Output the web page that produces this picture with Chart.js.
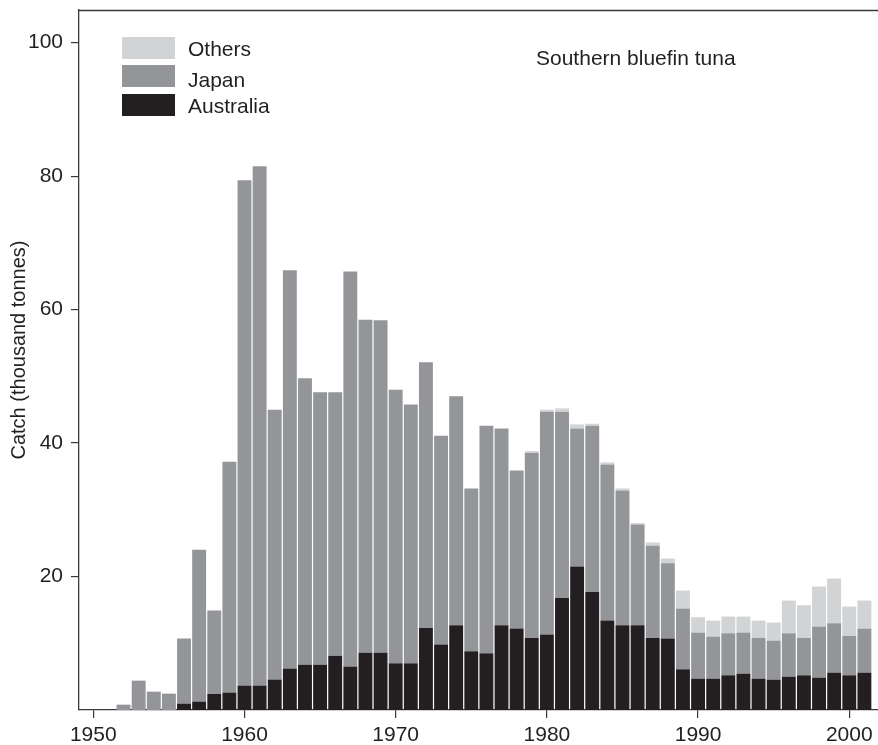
<!DOCTYPE html>
<html>
<head>
<meta charset="utf-8">
<script src="https://cdn.jsdelivr.net/npm/chart.js@4.4.1/dist/chart.umd.min.js"></script>
<style>
  html, body { margin: 0; padding: 0; background: #fff; }
  #wrap { width: 878px; height: 745px; }
</style>
</head>
<body>
<div id="wrap"><canvas id="c" width="878" height="745"></canvas></div>
<script>
const years = [1950,1951,1952,1953,1954,1955,1956,1957,1958,1959,
  1960,1961,1962,1963,1964,1965,1966,1967,1968,1969,
  1970,1971,1972,1973,1974,1975,1976,1977,1978,1979,
  1980,1981,1982,1983,1984,1985,1986,1987,1988,1989,
  1990,1991,1992,1993,1994,1995,1996,1997,1998,1999,
  2000,2001];

const australia = [0,0,0,0,0,0,0.95,1.25,2.4,2.6,
  3.65,3.65,4.55,6.2,6.8,6.8,8.1,6.5,8.6,8.6,
  7.0,7.0,12.3,9.8,12.7,8.8,8.5,12.7,12.2,10.8,
  11.3,16.8,21.5,17.7,13.4,12.7,12.7,10.8,10.7,6.1,
  4.7,4.7,5.2,5.45,4.7,4.55,5.0,5.2,4.85,5.6,
  5.2,5.6];

const japan = [0,0,0.8,4.4,2.75,2.45,9.75,22.75,12.5,34.6,
  75.75,77.85,40.45,59.7,42.9,40.8,39.5,59.2,49.9,49.8,
  41.0,38.8,39.8,31.3,34.3,24.4,34.1,29.5,23.7,27.7,
  33.4,27.9,20.7,24.9,23.4,20.2,15.1,13.8,11.3,9.1,
  6.9,6.3,6.3,6.15,6.1,5.85,6.5,5.6,7.65,7.4,
  5.9,6.6];

const others = [0,0,0,0,0,0,0,0,0,0,
  0,0,0,0,0,0,0,0,0,0,
  0,0,0,0,0,0,0,0,0,0.3,
  0.3,0.5,0.6,0.3,0.3,0.3,0.2,0.5,0.7,2.7,
  2.3,2.4,2.5,2.4,2.6,2.7,4.9,4.9,6.0,6.7,
  4.4,4.2];

const xTicks = [1950,1960,1970,1980,1990,2000];
const yTicks = [20,40,60,80,100];

const seriesNames = ['Australia','Japan','Others'];
const seriesColors = ['#231f20','#939598','#d1d3d4'];
const chartTitle = 'Southern bluefin tuna';
const yTitle = 'Catch (thousand tonnes)';

const FONT = '"Liberation Sans", Arial, Helvetica, sans-serif';
const TXT = '#231f20';
const AXIS = '#3a3a3a';

const overlay = {
  id: 'overlay',
  afterDraw(chart) {
    const ctx = chart.ctx;
    const a = chart.chartArea;
    ctx.save();
    // top frame line
    ctx.strokeStyle = AXIS;
    ctx.lineWidth = 1.3;
    ctx.beginPath();
    ctx.moveTo(a.left, a.top + 0.5);
    ctx.lineTo(a.right, a.top + 0.5);
    ctx.stroke();

    // legend
    const boxes = [
      {name: 'Others', y: 37, base: 56},
      {name: 'Japan', y: 65, base: 87},
      {name: 'Australia', y: 94, base: 113}
    ];
    ctx.font = '21px ' + FONT;
    ctx.textBaseline = 'alphabetic';
    ctx.textAlign = 'left';
    boxes.forEach(b => {
      const idx = seriesNames.indexOf(b.name);
      ctx.fillStyle = seriesColors[idx];
      ctx.fillRect(122, b.y, 53, 22);
      ctx.fillStyle = TXT;
      ctx.fillText(b.name, 188, b.base);
    });

    // title
    ctx.fillStyle = TXT;
    ctx.fillText(chartTitle, 536, 65);

    // y axis title
    ctx.font = '20px ' + FONT;
    ctx.translate(25, 350);
    ctx.rotate(-Math.PI / 2);
    ctx.textAlign = 'center';
    ctx.textBaseline = 'alphabetic';
    ctx.fillText(yTitle, 0, 0);
    ctx.restore();
  }
};

new Chart(document.getElementById('c'), {
  type: 'bar',
  data: {
    labels: years,
    datasets: seriesNames.map((n, i) => ({
      label: n,
      data: [australia, japan, others][i],
      backgroundColor: seriesColors[i],
      borderWidth: 0,
      barPercentage: 0.92,
      categoryPercentage: 1.0,
      stack: 's'
    }))
  },
  options: {
    responsive: false,
    animation: false,
    devicePixelRatio: 1,
    layout: { padding: { top: 10, right: 0, left: 0, bottom: 0 } },
    plugins: {
      legend: { display: false },
      tooltip: { enabled: false },
      title: { display: false }
    },
    scales: {
      x: {
        type: 'linear',
        stacked: true,
        offset: false,
        min: 1949.054,
        max: 2001.9,
        afterBuildTicks: (s) => { s.ticks = xTicks.map(v => ({value: v})); },
        afterFit: (s) => { s.height = 35; s.paddingLeft = 0; s.paddingRight = 0; },
        grid: { offset: false, drawOnChartArea: false, drawTicks: true, tickLength: 8, color: AXIS, lineWidth: 1.2 },
        border: { display: true, color: AXIS, width: 1.3 },
        ticks: {
          font: { family: FONT, size: 21 },
          color: TXT,
          padding: 5,
          maxRotation: 0,
          autoSkip: false,
          callback: (v) => String(v)
        }
      },
      y: {
        type: 'linear',
        stacked: true,
        min: 0,
        max: 104.9,
        afterBuildTicks: (s) => { s.ticks = yTicks.map(v => ({value: v})); },
        afterFit: (s) => { s.width = 79; s.paddingTop = 0; s.paddingBottom = 0; },
        grid: { offset: false, drawOnChartArea: false, drawTicks: true, tickLength: 8, color: AXIS, lineWidth: 1.2 },
        border: { display: true, color: AXIS, width: 1.3 },
        ticks: {
          font: { family: FONT, size: 21 },
          color: TXT,
          padding: 8,
          autoSkip: false,
          callback: (v) => String(v)
        }
      }
    }
  },
  plugins: [overlay]
});
</script>
</body>
</html>
